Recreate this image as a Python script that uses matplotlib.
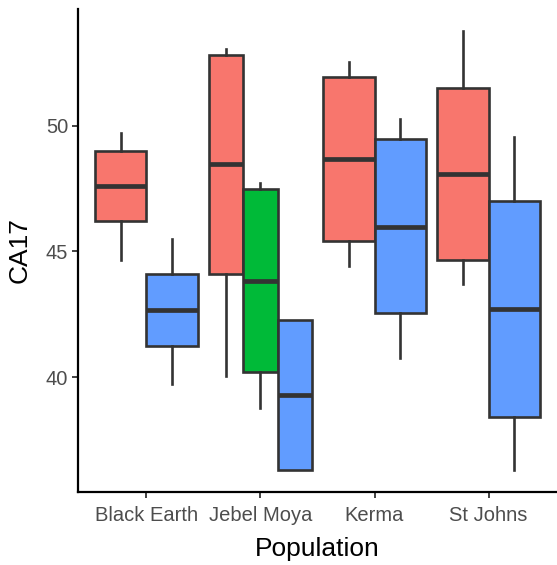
import numpy as np
import matplotlib
matplotlib.use("Agg")
import matplotlib.pyplot as plt

plt.rcParams['font.family'] = ['Liberation Sans', 'DejaVu Sans']

# categories on the x axis
populations = ["Black Earth", "Jebel Moya", "Kerma", "St Johns"]
group_colors = ["#F8766D", "#00BA38", "#619CFF"]

# one entry per box
box_pop = [0, 0, 1, 1, 1, 2, 2, 3, 3]
box_group = [0, 2, 0, 1, 2, 0, 2, 0, 2]
whislo = [44.65, 39.72, 40.06, 38.78, 36.32, 44.42, 40.75, 43.72, 36.32]
q1 = [46.20, 41.25, 44.12, 40.21, 36.32, 45.41, 42.54, 44.68, 38.41]
med = [47.60, 42.69, 48.49, 43.84, 39.28, 48.66, 45.98, 48.10, 42.71]
q3 = [49.00, 44.12, 52.82, 47.47, 42.27, 51.93, 49.46, 51.51, 47.00]
whishi = [49.70, 45.51, 53.04, 47.73, 42.27, 52.55, 50.28, 53.77, 49.56]

fig = plt.figure(figsize=(5.57, 5.65), dpi=100)
ax = fig.add_axes([78/557, 1 - 491.7/565, 1 - 78/557, (491.7 - 9)/565])

# dodge boxes within each population
dodge = 0.9
positions, widths = [], []
for i, p in enumerate(box_pop):
    members = [j for j, pp in enumerate(box_pop) if pp == p]
    n = len(members)
    k = members.index(i)
    w = dodge / n
    positions.append(p + 1 - dodge / 2 + w * (k + 0.5))
    widths.append(w)

stats = []
for i in range(len(box_pop)):
    stats.append(dict(whislo=whislo[i], q1=q1[i], med=med[i],
                      q3=q3[i], whishi=whishi[i], fliers=[]))

edge = "#333333"
bp = ax.bxp(stats, positions=positions, widths=widths, patch_artist=True,
            showcaps=False, showfliers=False,
            boxprops=dict(edgecolor=edge, linewidth=1.9),
            whiskerprops=dict(color=edge, linewidth=1.9),
            medianprops=dict(color=edge, linewidth=3.4, solid_capstyle='butt'))
for patch, g in zip(bp['boxes'], box_group):
    patch.set_facecolor(group_colors[g])

lo, hi = min(whislo), max(whishi)
pad = 0.05 * (hi - lo)
ax.set_ylim(lo - pad, hi + pad)
ax.set_xlim(0.4, 4.6)
ax.set_xticks(range(1, len(populations) + 1))
ax.set_xticklabels(populations)
ax.set_yticks([40, 45, 50])

for s in ['top', 'right']:
    ax.spines[s].set_visible(False)
for s in ['left', 'bottom']:
    ax.spines[s].set_linewidth(1.6)
    ax.spines[s].set_color('black')
ax.tick_params(axis='both', length=4, width=1.3, color=edge,
               labelsize=14.5, labelcolor='#4D4D4D')
ax.tick_params(axis='x', pad=6)
ax.tick_params(axis='y', pad=3)

ax.set_xlabel("Population", fontsize=19, labelpad=9)
ax.set_ylabel("CA17", fontsize=19, labelpad=10)

fig.savefig("out.png", dpi=100)
